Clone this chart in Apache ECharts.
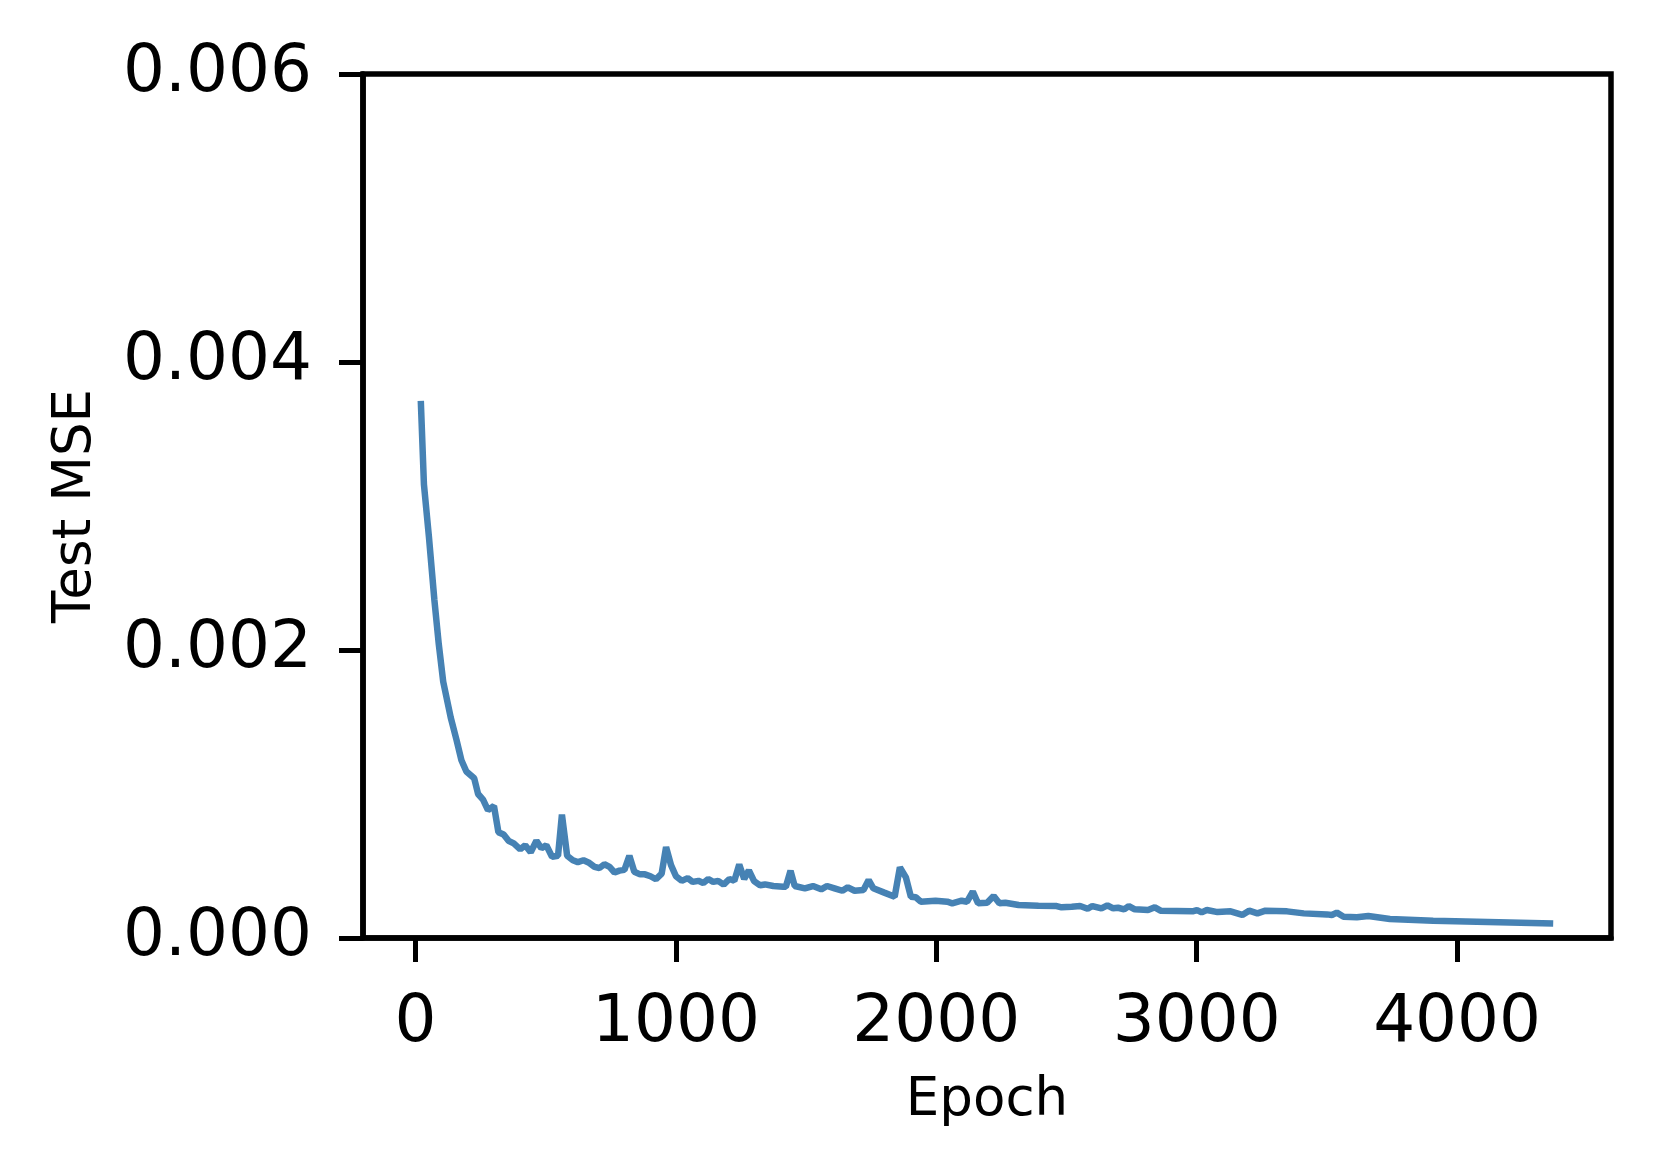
<!DOCTYPE html>
<html>
<head>
<meta charset="utf-8">
<script src="https://cdn.jsdelivr.net/npm/echarts@6/dist/echarts.min.js"></script>
<style>
html,body{margin:0;padding:0;background:#fff;}
#chart{width:1660px;height:1174px;}
</style>
</head>
<body>
<div id="chart"></div>
<script>
var epochs = [20,32,51,72,89,106,135,157,176,195,225,240,259,278,301,318,338,357,377,402,421,442,464,483,502,524,547,562,582,604,623,645,664,687,706,725,745,764,783,802,821,840,862,881,902,923,945,962,981,1000,1022,1045,1064,1086,1105,1124,1143,1162,1183,1205,1224,1243,1262,1280,1300,1323,1342,1374,1412,1422,1440,1456,1495,1526,1558,1580,1609,1639,1660,1686,1720,1740,1758,1800,1840,1860,1883,1902,1921,1940,1997,2042,2061,2097,2118,2140,2160,2195,2220,2242,2265,2316,2392,2462,2481,2520,2552,2581,2599,2634,2657,2679,2698,2721,2739,2762,2813,2839,2861,2984,3001,3019,3039,3080,3130,3175,3201,3233,3264,3347,3411,3500,3519,3538,3564,3615,3659,3742,3908,4369];
var testMse = [0.00373,0.00315,0.00279,0.00235,0.00204,0.00178,0.00153,0.001377,0.001234,0.001156,0.001109,0.00100,0.000961,0.000888,0.000917,0.000735,0.000719,0.000675,0.000657,0.000616,0.000644,0.000595,0.000675,0.000623,0.000644,0.000564,0.000571,0.000857,0.000571,0.00054,0.000527,0.00054,0.000525,0.000494,0.000486,0.000512,0.000494,0.000455,0.000468,0.000473,0.000571,0.00046,0.000442,0.000442,0.000429,0.000408,0.000447,0.000631,0.000506,0.000429,0.000397,0.000416,0.00039,0.000397,0.000382,0.00041,0.00039,0.000397,0.000371,0.00041,0.000397,0.00051,0.00041,0.00047,0.000395,0.000366,0.000372,0.000361,0.000356,0.000356,0.000467,0.000361,0.000345,0.000361,0.000338,0.000361,0.000345,0.000328,0.000352,0.000328,0.000333,0.000403,0.000345,0.000315,0.000287,0.000491,0.000421,0.000287,0.000283,0.000252,0.000259,0.000252,0.000241,0.000259,0.000252,0.000322,0.000241,0.000245,0.000292,0.000241,0.000245,0.000229,0.000224,0.000222,0.000213,0.000217,0.000222,0.000203,0.000222,0.000206,0.000227,0.000206,0.00021,0.000199,0.000222,0.000199,0.000194,0.000213,0.00019,0.000185,0.000194,0.000178,0.000194,0.00018,0.000185,0.00016,0.00019,0.000171,0.00019,0.000185,0.000171,0.000164,0.00016,0.000176,0.000148,0.000144,0.000153,0.000132,0.00012,0.0001];
var xTicks = [0,1000,2000,3000,4000];
var yTicks = [0,0.002,0.004,0.006];

var FONT = 'DejaVu Sans';
var chart = echarts.init(document.getElementById('chart'), null, {renderer:'canvas'});
var pts = epochs.map(function(e,i){return [e, testMse[i]];});
chart.setOption({
  animation:false,
  backgroundColor:'#fff',
  grid:{left:363,right:49,top:74,bottom:236,show:true,borderColor:'#000',borderWidth:5.5,backgroundColor:'transparent'},
  xAxis:{
    type:'value',min:-202,max:4591,
    axisLine:{show:true,onZero:false,lineStyle:{color:'#000',width:5.5}},
    axisTick:{show:true,length:24,lineStyle:{color:'#000',width:5},customValues:xTicks},
    axisLabel:{customValues:xTicks,fontSize:66,color:'#000',margin:53,fontFamily:FONT,
      formatter:function(v){return String(Math.round(v));}},
    splitLine:{show:false},
    name:'Epoch',nameLocation:'middle',nameGap:137,
    nameTextStyle:{fontSize:53,color:'#000',fontFamily:FONT}
  },
  yAxis:{
    type:'value',min:0,max:0.006,
    axisLine:{show:true,onZero:false,lineStyle:{color:'#000',width:5.5}},
    axisTick:{show:true,length:24,lineStyle:{color:'#000',width:5},customValues:yTicks},
    axisLabel:{customValues:yTicks,fontSize:66,color:'#000',margin:51,fontFamily:FONT,
      formatter:function(v){return v.toFixed(3);}},
    splitLine:{show:false},
    name:'Test MSE',nameLocation:'middle',nameGap:260,
    nameTextStyle:{fontSize:53,color:'#000',fontFamily:FONT}
  },
  series:[{
    type:'line',data:pts,showSymbol:false,symbol:'none',
    lineStyle:{color:'#4682B4',width:6.5},
    itemStyle:{color:'#4682B4'}
  }]
});
</script>
</body>
</html>
